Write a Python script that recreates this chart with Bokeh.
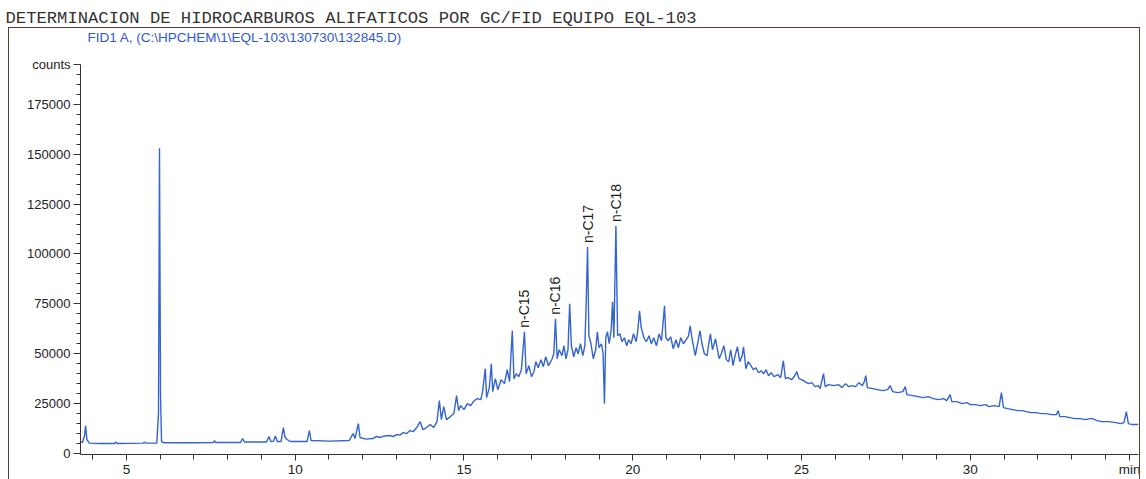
from bokeh.plotting import figure
from bokeh.models import (Range1d, FixedTicker, Label, ColumnDataSource,
                          InlineStyleSheet)
from bokeh.core.properties import value
from bokeh.embed import file_html
from bokeh.resources import INLINE
import math

# ---------------- data ----------------
title_text = "DETERMINACION DE HIDROCARBUROS ALIFATICOS POR GC/FID EQUIPO EQL-103"
signal_text = "FID1 A,  (C:\\HPCHEM\\1\\EQL-103\\130730\\132845.D)"

rt_min = [
    3.64, 3.70, 3.76, 3.79, 3.83, 3.90, 4.20, 4.65, 4.68, 4.72, 5.50, 5.53, 5.56,
    5.90, 5.95, 5.98, 6.01, 6.04, 6.10, 7.00, 7.58, 7.61, 7.64, 8.38, 8.44, 8.50,
    9.15, 9.22, 9.28, 9.36, 9.41, 9.47, 9.58, 9.65, 9.70, 9.76, 9.85, 10.35, 10.42,
    10.47, 11.00, 11.60, 11.68, 11.72, 11.77, 11.87, 11.92, 12.10, 12.30, 12.40,
    12.50, 12.65, 12.80, 12.90, 13.00, 13.10, 13.20, 13.30, 13.40, 13.50, 13.60,
    13.70, 13.78, 13.85, 14.00, 14.10, 14.20, 14.27, 14.33, 14.40, 14.48, 14.60,
    14.70, 14.78, 14.84, 14.90, 15.00, 15.10, 15.20, 15.30, 15.40, 15.50, 15.55,
    15.63, 15.67, 15.75, 15.81, 15.85, 15.93, 16.00, 16.10, 16.20, 16.28, 16.35,
    16.43, 16.48, 16.55, 16.62, 16.70, 16.79, 16.84, 16.92, 17.00, 17.07, 17.13,
    17.20, 17.28, 17.35, 17.42, 17.50, 17.60, 17.66, 17.71, 17.76, 17.82, 17.90,
    17.96, 18.02, 18.08, 18.13, 18.18, 18.25, 18.32, 18.38, 18.45, 18.52, 18.58,
    18.62, 18.66, 18.70, 18.76, 18.83, 18.90, 18.95, 19.00, 19.07, 19.12, 19.16,
    19.20, 19.25, 19.30, 19.36, 19.40, 19.44, 19.50, 19.55, 19.62, 19.68, 19.75,
    19.82, 19.88, 19.95, 20.02, 20.10, 20.15, 20.20, 20.25, 20.33, 20.40, 20.48,
    20.55, 20.62, 20.70, 20.78, 20.85, 20.94, 20.98, 21.05, 21.12, 21.20, 21.28,
    21.35, 21.42, 21.50, 21.58, 21.65, 21.70, 21.75, 21.85, 21.92, 21.99, 22.05,
    22.12, 22.20, 22.25, 22.30, 22.36, 22.45, 22.52, 22.56, 22.62, 22.70, 22.77,
    22.84, 22.90, 22.97, 23.03, 23.10, 23.17, 23.24, 23.28, 23.35, 23.42, 23.50,
    23.57, 23.65, 23.72, 23.80, 23.88, 23.95, 24.02, 24.10, 24.18, 24.30, 24.38,
    24.46, 24.52, 24.60, 24.70, 24.78, 24.86, 24.92, 25.00, 25.10, 25.20, 25.30,
    25.40, 25.50, 25.55, 25.62, 25.65, 25.70, 25.80, 25.95, 26.10, 26.20, 26.30,
    26.40, 26.50, 26.60, 26.70, 26.80, 26.86, 26.90, 26.95, 27.10, 27.25, 27.40,
    27.55, 27.62, 27.70, 27.85, 28.00, 28.07, 28.12, 28.30, 28.45, 28.60, 28.75,
    28.90, 29.05, 29.20, 29.30, 29.40, 29.45, 29.60, 29.75, 29.90, 30.00, 30.15,
    30.30, 30.45, 30.55, 30.70, 30.85, 30.92, 30.98, 31.10, 31.25, 31.40, 31.55,
    31.65, 31.80, 31.95, 32.10, 32.25, 32.40, 32.55, 32.60, 32.65, 32.80, 32.95,
    33.10, 33.25, 33.40, 33.55, 33.62, 33.75, 33.90, 34.10, 34.30, 34.45, 34.55,
    34.62, 34.68, 34.80, 34.98,
]
counts = [
    6000, 5500, 9000, 14000, 7000, 5200, 5000, 5000, 5800, 5000, 5200, 5800, 5200,
    5200, 20000, 153000, 30000, 6000, 5400, 5400, 5500, 6500, 5500, 5500, 7500, 5800,
    5800, 8500, 6000, 6200, 8800, 6000, 6000, 13000, 8000, 7000, 6000, 6000, 11500,
    6500, 6200, 6500, 9000, 10000, 7500, 15000, 8000, 7200, 7500, 8500,
    8000, 8800, 9000, 8500, 9500, 9200, 10500, 10000, 11500, 11000, 13000,
    16000, 12000, 12500, 14500, 13000, 16000, 26500, 17000, 23500, 17000, 18500,
    20000, 29000, 21500, 24000, 22000, 25000, 24000, 26500, 27500, 27000, 31000,
    42500, 28000, 33000, 45000, 31000, 37500, 32000, 37000, 35000, 42000, 36000,
    61500, 37500, 40000, 38500, 42000, 61000, 40000, 44000, 38500, 41000, 46000,
    43000, 47000, 43500, 48500, 44000, 47000, 50000, 67500, 47500, 52000, 49000,
    54000, 47500, 52000, 75000, 54000, 48500, 53000, 50000, 55000, 49000, 54000,
    76000, 103500, 59000, 55000, 47500, 52000, 61000, 53000, 55000, 50000, 25000,
    58000, 61000, 55000, 62000, 76000, 58000, 114000, 59000, 60000, 56000, 58000,
    54000, 57000, 55000, 60000, 56000, 62000, 71500, 63000, 58000, 56000, 59000,
    55000, 58000, 54000, 60000, 56500, 74000, 58000, 56500, 58500, 52500, 57000,
    53000, 58000, 55000, 57000, 59000, 64000, 58000, 49000, 55000, 61500, 55000,
    50000, 49000, 55000, 60000, 52000, 57500, 51000, 47500, 50000, 54000, 47000,
    46000, 52000, 44000, 49000, 53500, 46000, 49000, 53500, 42500, 46000, 44000,
    42000, 43000, 40500, 41500, 40000, 42000, 39000, 40500, 38500, 39500, 38000,
    46500, 37500, 38000, 37000, 38500, 41000, 37500, 37000, 36000, 35000, 35500,
    33500, 34000, 32500, 38000, 40000, 33500, 34500, 34000, 34500, 33000, 35000,
    33500, 34000, 33500, 35500, 34000, 36000, 39000, 33000, 32500, 32000, 31500,
    32000, 34000, 31000, 30500, 31000, 33500, 29500, 29000, 28500, 28000, 28500,
    27500, 27000, 27500, 26500, 29500, 26000, 26000, 25000, 25500, 24500, 24500,
    24000, 24500, 23500, 24000, 23500, 30500, 23000, 22500, 22000, 21500, 21500,
    21000, 20500, 20500, 20000, 20000, 19500, 19500, 21500, 18500, 18500, 18000,
    17500, 17500, 17000, 17500, 17500, 16500, 16000, 16000, 15500, 15000, 15500,
    21000, 15000, 14500, 14500,
]

peak_names = ["n-C15", "n-C16", "n-C17", "n-C18"]
peak_rt = [16.79, 17.71, 18.66, 19.50]
peak_counts = [61000, 67500, 103500, 114000]

x_major = [5, 10, 15, 20, 25, 30, 34.72]
x_labels = ["5", "10", "15", "20", "25", "30", "min"]
y_major = [0, 25000, 50000, 75000, 100000, 125000, 150000, 175000, 195000]
y_labels = ["0", "25000", "50000", "75000", "100000", "125000", "150000",
            "175000", "counts"]

# ---------------- figure ----------------
x_start, x_end = 3.64, 34.98
y_start, y_end = -500, 213500

box_css = """
:host { position: relative; }
:host::after {
  content: "";
  position: absolute;
  left: 8px; top: 27px; width: 1132px; height: 452px;
  box-sizing: border-box;
  border-left: 1.5px solid #5a3c34;
  border-top: 1.5px solid #5a3c34;
  border-right: 1.5px solid #5a3c34;
  pointer-events: none;
}
"""

p = figure(width=1146, height=479, output_backend="svg", toolbar_location=None,
           x_range=Range1d(x_start, x_end), y_range=Range1d(y_start, y_end),
           min_border_left=80, min_border_right=8, min_border_top=27,
           min_border_bottom=22, title=title_text,
           stylesheets=[InlineStyleSheet(css=box_css)])
p.outline_line_color = None
p.xgrid.visible = False
p.ygrid.visible = False
p.background_fill_color = "white"
p.border_fill_color = "white"

p.title.align = "left"
p.title.offset = -75
p.title.standoff = 0
p.title.text_font = "Liberation Mono"
p.title.text_font_size = "17.2px"
p.title.text_font_style = "normal"
p.title.text_color = "#333333"

axis_color = "#3a3030"
label_font = "Liberation Sans"

# x axis
xa = p.xaxis[0]
xa.ticker = FixedTicker(ticks=x_major, minor_ticks=list(range(4, 35)))
xa.major_label_overrides = {t: s for t, s in zip(x_major, x_labels)}
xa.axis_line_color = axis_color
xa.major_tick_line_color = axis_color
xa.minor_tick_line_color = axis_color
xa.major_tick_out = 6
xa.major_tick_in = 0
xa.minor_tick_out = 5
xa.minor_tick_in = 0
xa.major_label_standoff = 1
xa.major_label_text_font = label_font
xa.major_label_text_font_size = "13.5px"
xa.major_label_text_color = "#222222"

# y axis
ya = p.yaxis[0]
ya.ticker = FixedTicker(ticks=y_major,
                        minor_ticks=list(range(5000, 195000, 5000)))
ya.major_label_overrides = {t: s for t, s in zip(y_major, y_labels)}
ya.bounds = (y_start, 195000)
ya.axis_line_color = axis_color
ya.major_tick_line_color = axis_color
ya.minor_tick_line_color = axis_color
ya.major_tick_out = 7
ya.major_tick_in = 0
ya.minor_tick_out = 4
ya.minor_tick_in = 0
ya.major_label_standoff = 3
ya.major_label_text_font = label_font
ya.major_label_text_font_size = "13px"
ya.major_label_text_color = "#222222"

# trace
src = ColumnDataSource(dict(t=rt_min, c=counts))
p.line("t", "c", source=src, line_color="#3464d0", line_width=1.4)

# peak labels (rotated, above apex)
lab_src = ColumnDataSource(dict(t=peak_rt,
                                c=[v + 2000 for v in peak_counts],
                                name=peak_names))
p.text(x="t", y="c", text="name", source=lab_src, angle=math.pi / 2,
       text_align="left", text_baseline="middle",
       text_font=value(label_font), text_font_size="14px",
       text_color="#1a1a1a")

# signal description inside the frame
p.add_layout(Label(x=x_start + (87 - 80) / 33.76, y=(455 - 38) * 500,
                   text=signal_text, text_baseline="middle",
                   text_font=label_font, text_font_size="13.5px",
                   text_color="#2f58d0"))

open("out.html", "w").write(file_html(p, INLINE))
